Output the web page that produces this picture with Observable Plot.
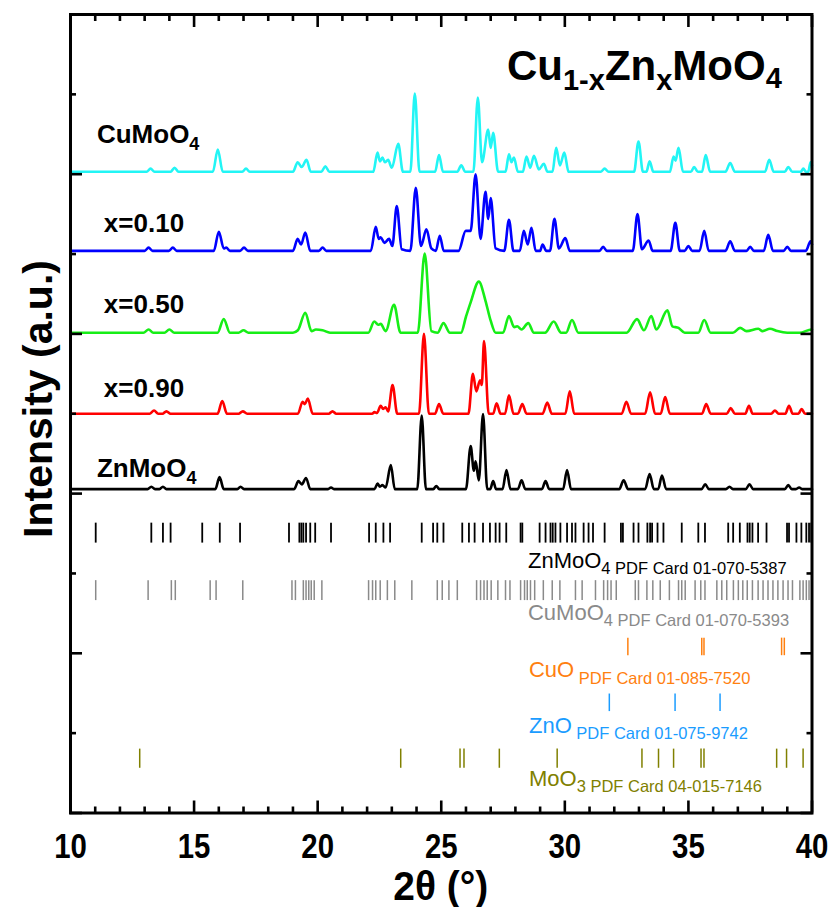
<!DOCTYPE html>
<html><head><meta charset="utf-8">
<script src="https://cdn.jsdelivr.net/npm/d3@7"></script>
<script src="https://cdn.jsdelivr.net/npm/@observablehq/plot@0.6"></script>
<style>
body{margin:0;background:#fff;}
#chart text{white-space:pre;}
</style>
</head><body><div id="chart"></div>
<script>
// ---------- data ----------
const samples = ["CuMoO4", "x=0.10", "x=0.50", "x=0.90", "ZnMoO4"];
const offsets = [8.03, 7.04, 6.015, 5.0, 4.056];   // vertical stacking offset (a.u.)
// [2θ (°), relative intensity]
const patCuMoO4 = [[10,0],[13.08,0],[13.24,4],[13.4,0],[14.05,0],[14.21,5],[14.37,0],[15.76,0],[15.96,28],[16.16,0],[16.95,0],[17.1,4],[17.25,0],[19.0,0],[19.19,12],[19.35,6],[19.55,15],[19.72,0],[20.15,0],[20.31,7],[20.47,0],[22.25,0],[22.42,24],[22.52,13],[22.62,18],[22.72,12],[22.85,15],[23.0,5],[23.26,35],[23.45,0],[23.75,0],[23.93,98],[24.12,0],[24.75,0],[24.91,21],[25.07,0],[25.65,0],[25.81,8],[25.97,0],[26.3,0],[26.48,93],[26.65,12],[26.9,53],[27.0,30],[27.1,49],[27.3,0],[27.6,0],[27.74,22],[27.84,12],[27.94,18],[28.1,0],[28.3,0],[28.45,19],[28.6,5],[28.75,20],[28.95,3],[29.15,10],[29.3,0],[29.5,0],[29.65,30],[29.8,8],[29.98,24],[30.15,0],[31.45,0],[31.61,4],[31.77,0],[32.8,0],[32.98,38],[33.16,0],[33.3,0],[33.43,13],[33.58,0],[34.25,0],[34.4,19],[34.48,14],[34.6,30],[34.78,0],[35.1,0],[35.23,6],[35.38,0],[35.55,0],[35.7,21],[35.88,0],[36.5,0],[36.69,11],[36.88,0],[38.1,0],[38.27,15],[38.45,0],[38.9,0],[39.04,6],[39.2,0],[39.55,0],[39.65,4],[39.75,0],[39.85,0],[39.94,12],[40,8]];
const patX010 = [[10,0],[13.0,0],[13.16,4],[13.32,0],[13.98,0],[14.14,4],[14.3,0],[15.8,0],[16.0,24],[16.2,3],[16.3,4],[16.45,0],[16.86,0],[17.02,4],[17.18,0],[19.0,0],[19.19,15],[19.33,8],[19.5,23],[19.7,0],[20.05,0],[20.2,4],[20.35,0],[22.15,0],[22.35,30],[22.47,15],[22.55,17],[22.7,10],[22.89,15],[23.02,6],[23.2,56],[23.4,2],[23.75,0],[23.97,79],[24.18,6],[24.4,27],[24.6,3],[24.78,0],[24.94,19],[25.1,0],[25.7,0],[25.99,25],[26.19,25],[26.39,96],[26.59,15],[26.79,74],[26.9,40],[27.0,66],[27.2,3],[27.55,0],[27.74,39],[27.92,0],[28.18,0],[28.34,25],[28.5,8],[28.65,29],[28.82,0],[29.0,0],[29.1,8],[29.25,0],[29.4,0],[29.58,40],[29.76,3],[30.02,16],[30.2,0],[31.4,0],[31.55,5],[31.7,0],[32.75,0],[32.94,46],[33.12,2],[33.39,13],[33.55,0],[34.28,0],[34.47,35],[34.65,0],[34.85,0],[35.0,6],[35.15,0],[35.45,0],[35.64,25],[35.82,0],[36.5,0],[36.69,12],[36.88,0],[37.35,0],[37.5,5],[37.65,0],[38.05,0],[38.23,20],[38.42,0],[38.85,0],[39.0,5],[39.15,0],[39.75,0],[39.94,12],[40,8]];
const patX050 = [[10,0],[12.95,0],[13.16,4],[13.35,0],[13.8,0],[14.0,4],[14.2,0],[15.95,0],[16.2,17],[16.45,0],[16.8,0],[17.0,3],[17.2,0],[19.0,0],[19.2,3],[19.5,25],[19.75,2],[19.93,4],[20.2,3],[20.5,0],[22.05,0],[22.29,14],[22.45,10],[22.55,11],[22.75,2],[23.09,35],[23.35,0],[24.05,0],[24.33,99],[24.6,2],[24.85,0],[25.09,12],[25.35,0],[25.8,0],[26.0,20],[26.19,38],[26.52,64],[26.79,40],[27.0,15],[27.2,0],[27.5,0],[27.74,21],[27.95,7],[28.07,8],[28.25,4],[28.52,12],[28.75,0],[29.2,0],[29.55,14],[29.85,0],[30.05,0],[30.29,16],[30.55,0],[32.5,0],[32.92,17],[33.2,3],[33.5,21],[33.7,4],[34.15,28],[34.35,8],[34.6,6],[34.85,0],[35.4,0],[35.64,16],[35.9,0],[36.8,0],[37.09,6],[37.35,2],[37.83,5],[38.0,2],[38.3,5],[38.6,2],[39.0,0],[39.5,0],[39.98,4],[40,4]];
const patX090 = [[10,0],[13.2,0],[13.38,4],[13.55,0],[13.72,0],[13.88,3],[14.05,0],[15.95,0],[16.14,16],[16.33,0],[16.8,0],[16.97,3],[17.15,0],[19.2,0],[19.39,15],[19.48,12],[19.6,19],[19.8,0],[20.45,0],[20.6,3],[20.75,0],[22.2,0],[22.3,2],[22.4,1],[22.55,10],[22.65,6],[22.75,8],[22.85,3],[23.03,36],[23.22,0],[24.1,0],[24.3,100],[24.5,0],[24.75,0],[24.91,12],[25.08,0],[26.1,0],[26.28,50],[26.42,28],[26.57,42],[26.64,36],[26.73,91],[26.92,0],[27.1,0],[27.24,13],[27.4,0],[27.58,0],[27.74,23],[27.92,0],[28.1,0],[28.28,12],[28.45,0],[29.1,0],[29.29,14],[29.47,0],[30.02,0],[30.2,28],[30.38,0],[32.3,0],[32.49,15],[32.68,0],[33.25,0],[33.45,27],[33.65,0],[33.88,0],[34.06,21],[34.25,0],[35.55,0],[35.72,12],[35.9,0],[36.55,0],[36.71,7],[36.88,0],[37.3,0],[37.45,10],[37.6,0],[38.35,0],[38.5,4],[38.65,0],[38.92,0],[39.07,10],[39.22,0],[39.45,0],[39.58,6],[39.72,0],[40,0]];
const patZnMoO4 = [[10,0],[13.12,0],[13.27,3],[13.42,0],[13.6,0],[13.74,3],[13.88,0],[15.86,0],[16.03,15],[16.2,0],[16.75,0],[16.88,3],[17.02,0],[19.05,0],[19.22,10],[19.36,6],[19.53,14],[19.7,0],[20.42,0],[20.54,2],[20.66,0],[22.3,0],[22.42,7],[22.52,3],[22.62,5],[22.75,2],[22.96,30],[23.12,0],[24.03,0],[24.21,92],[24.38,0],[24.68,0],[24.8,4],[24.92,0],[26.0,0],[26.19,54],[26.32,23],[26.39,35],[26.52,11],[26.69,94],[26.86,0],[26.98,0],[27.1,10],[27.22,0],[27.48,0],[27.64,24],[27.8,0],[28.1,0],[28.25,11],[28.4,0],[29.07,0],[29.22,10],[29.37,0],[29.93,0],[30.09,24],[30.25,0],[32.2,0],[32.38,11],[32.56,0],[33.25,0],[33.43,19],[33.6,0],[33.78,0],[33.93,17],[34.1,0],[35.53,0],[35.68,6],[35.83,0],[36.52,0],[36.66,3],[36.8,0],[37.32,0],[37.47,6],[37.62,0],[38.9,0],[39.04,5],[39.18,0],[39.35,0],[39.48,2],[39.6,0],[40,0]];
const patterns = [patCuMoO4, patX010, patX050, patX090, patZnMoO4];

// reference stick positions (2θ, °)
const sticksZnMoO4 = [11.02,13.27,13.74,14.05,15.33,16.04,16.86,18.84,19.26,19.34,19.42,19.53,19.70,19.90,20.54,22.08,22.35,22.66,22.93,24.21,24.67,24.84,25.09,25.85,26.12,26.35,26.69,26.97,27.20,27.36,27.63,28.21,28.28,28.98,29.22,29.42,29.51,29.62,29.82,30.09,30.29,30.43,30.76,30.96,31.14,31.61,32.27,32.35,32.78,32.98,33.34,33.45,33.53,33.75,33.99,34.73,35.40,35.67,36.61,36.81,37.08,37.39,37.48,37.59,37.82,38.16,38.99,39.07,39.37,39.57,39.77,39.88,39.97];
const sticksCuMoO4 = [11.02,13.14,14.08,14.24,15.65,15.89,16.97,18.96,19.10,19.42,19.53,19.64,19.74,19.86,20.17,22.06,22.22,22.35,22.53,22.82,23.12,23.81,24.84,25.04,25.31,25.65,26.43,26.59,26.73,26.86,27.02,27.29,27.60,27.78,28.21,28.37,28.48,28.61,28.78,29.13,29.49,29.80,30.43,30.70,31.24,31.57,31.73,31.87,32.08,32.85,32.98,33.32,33.56,33.86,34.23,34.60,34.73,34.87,35.27,35.50,35.67,36.15,36.35,36.55,36.82,37.02,37.20,37.38,37.59,37.82,38.02,38.22,38.42,38.62,38.83,39.03,39.21,39.51,39.64,39.77,39.88];
const sticksCuO = [32.55,35.54,35.63,38.77,38.88];
const sticksZnO = [31.80,34.46,36.28];
const sticksMoO3 = [12.80,23.36,25.76,25.92,27.35,29.69,33.12,33.79,34.40,35.51,35.63,38.57,38.97,39.64];

const xTicksMajor = [10,15,20,25,30,35,40];
const xTicksMinor = d3.range(10,41).filter(d => d % 5 !== 0);
const yTicksMajor = [0,2,4,6,8,10];
const yTicksMinor = [1,3,5,7,9];

// ---------- styles ----------
const sampleColors = ["#22f5f5", "#0000ff", "#16ee16", "#ff0000", "#000000"];
const phases = [
  {name:"ZnMoO4", sticks: sticksZnMoO4, color:"#000000", y1:3.38, y2:3.63, w:1.8},
  {name:"CuMoO4", sticks: sticksCuMoO4, color:"#8a8a8a", y1:2.66, y2:2.91, w:1.5},
  {name:"CuO", sticks: sticksCuO, color:"#ff8010", y1:1.97, y2:2.19, w:1.5},
  {name:"ZnO", sticks: sticksZnO, color:"#1a9cff", y1:1.27, y2:1.49, w:1.5},
  {name:"MoO3", sticks: sticksMoO3, color:"#808000", y1:0.56, y2:0.80, w:1.5}
];

const rows = [];
patterns.forEach((p, k) => p.forEach(([x, i]) => rows.push({sample: samples[k], x, y: offsets[k] + i / 100})));

const sans = "'Liberation Sans', Arial, Helvetica, sans-serif";

const axisStyle = {strokeWidth: 2.6, fill: "none", label: null, stroke: "#000"};
const plot = Plot.plot({
  width: 836, height: 907,
  marginLeft: 70, marginRight: 24.5, marginTop: 14, marginBottom: 94.5,
  x: {domain: [10, 40]},
  y: {domain: [0, 10]},
  color: {domain: samples, range: sampleColors},
  style: {background: "#fff", overflow: "visible"},
  marks: [
    ...phases.map(ph => Plot.ruleX(ph.sticks, {x: d => d, y1: ph.y1, y2: ph.y2, stroke: ph.color, strokeWidth: ph.w})),
    Plot.line(rows, {x: "x", y: "y", z: "sample", stroke: "sample", curve: "monotone-x", strokeWidth: 2.6, strokeLinejoin: "round"}),
    Plot.axisX(xTicksMajor, {anchor: "bottom", tickSize: -12, ...axisStyle}),
    Plot.axisX(xTicksMinor, {anchor: "bottom", tickSize: -6, ...axisStyle}),
    Plot.axisX(xTicksMajor, {anchor: "top", tickSize: -12, ...axisStyle}),
    Plot.axisX(xTicksMinor, {anchor: "top", tickSize: -6, ...axisStyle}),
    Plot.axisY(yTicksMajor, {anchor: "left", tickSize: -12, ...axisStyle}),
    Plot.axisY(yTicksMinor, {anchor: "left", tickSize: -6, ...axisStyle}),
    Plot.axisY(yTicksMajor, {anchor: "right", tickSize: -12, ...axisStyle}),
    Plot.axisY(yTicksMinor, {anchor: "right", tickSize: -6, ...axisStyle}),
    Plot.frame({stroke: "#000", strokeWidth: 3}),
    Plot.text(xTicksMajor, {x: d => d, y: 0, dy: 34, text: d => String(d), fontSize: 35, fontWeight: "bold", fontFamily: sans, fill: "#000", className: "xticklab"})
  ]
});
document.getElementById("chart").appendChild(plot);

// condense the tick labels (narrow bold face in the original)
d3.select(plot).selectAll(".xticklab text").each(function() {
  const tr = this.getAttribute("transform");
  if (tr) this.setAttribute("transform", tr + " scale(0.84,1)");
  else {
    const x = +this.getAttribute("x"), y = +this.getAttribute("y");
    this.setAttribute("transform", `translate(${x},${y}) scale(0.84,1) translate(${-x},${-y})`);
  }
});

// ---------- rich-text labels (positioned through the plot's scales) ----------
const svg = d3.select(plot);
const sx = plot.scale("x"), sy = plot.scale("y");
function rich(x, y, parts, {color = "#000", weight = "normal", family = sans} = {}) {
  const t = svg.append("text")
    .attr("x", sx.apply(x)).attr("y", sy.apply(y)).attr("text-anchor", "start")
    .attr("fill", color).attr("font-weight", weight).attr("font-family", family);
  let cur = 0;
  parts.forEach(([s, size, shift]) => {
    t.append("tspan").attr("font-size", size).attr("dy", shift - cur).text(s);
    cur = shift;
  });
  return t;
}
// sample labels
rich(11.09, 8.38, [["CuMoO", 26, 0], ["4", 18, 7]], {weight: "bold"});
rich(11.37, 7.27, [["x=0.10", 26, 0]], {weight: "bold"});
rich(11.37, 6.25, [["x=0.50", 26, 0]], {weight: "bold"});
rich(11.37, 5.20, [["x=0.90", 26, 0]], {weight: "bold"});
rich(11.09, 4.20, [["ZnMoO", 26, 0], ["4", 18, 7]], {weight: "bold"});
// title
rich(27.68, 9.17, [["Cu", 42, 0], ["1-x", 29, 10], ["Zn", 42, 0], ["x", 29, 10], ["MoO", 42, 0], ["4", 29, 8]], {weight: "bold"});
// phase labels
rich(28.53, 3.06, [["ZnMoO", 22, 0], ["4 PDF Card 01-070-5387", 16.5, 6]], {color: "#000"});
rich(28.53, 2.41, [["CuMoO", 22, 0], ["4 PDF Card 01-070-5393", 16.5, 6]], {color: "#8a8a8a"});
rich(28.57, 1.70, [["CuO", 22, 0], [" PDF Card 01-085-7520", 16.5, 7]], {color: "#ff8010"});
rich(28.57, 1.00, [["ZnO", 22, 0], [" PDF Card 01-075-9742", 16.5, 6]], {color: "#1a9cff"});
rich(28.57, 0.33, [["MoO", 22, 0], ["3 PDF Card 04-015-7146", 16.5, 6]], {color: "#808000"});
// axis titles
const xt = svg.append("text").attr("text-anchor", "middle").attr("font-family", sans).attr("font-weight", "bold")
  .attr("font-size", 41).text("2θ (°)");
const xc = (sx.range[0] + sx.range[1]) / 2;
xt.attr("transform", `translate(${xc},900) scale(0.95,1)`);
svg.append("text").attr("transform", `translate(52,399) rotate(-90)`)
  .attr("text-anchor", "middle").attr("font-family", sans).attr("font-weight", "bold")
  .attr("font-size", 41).text("Intensity (a.u.)");
</script>
</body></html>
